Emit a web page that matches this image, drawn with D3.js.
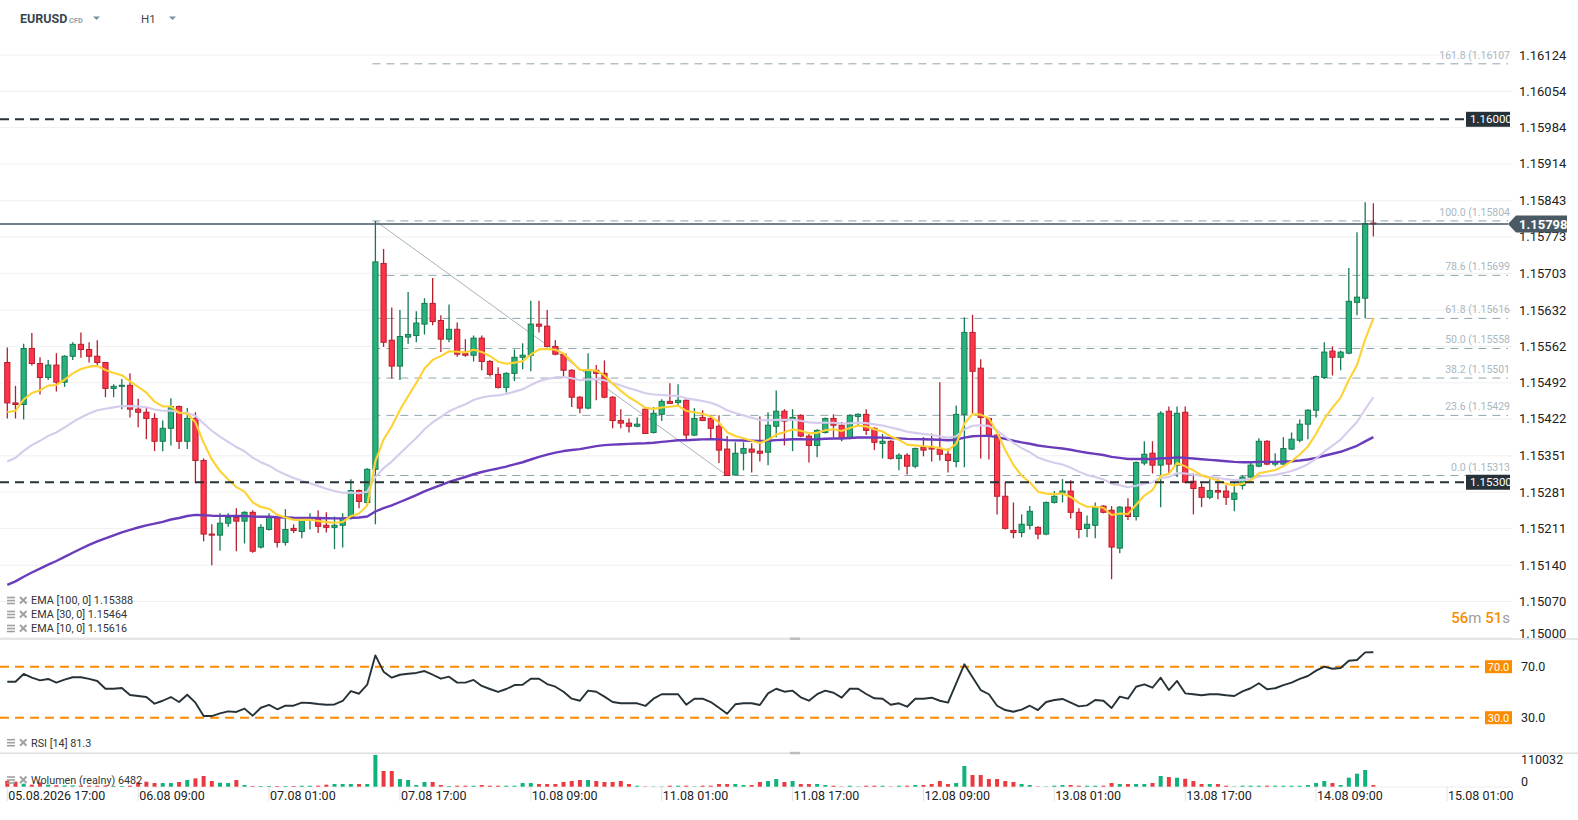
<!DOCTYPE html>
<html>
<head>
<meta charset="utf-8">
<script src="https://cdn.jsdelivr.net/npm/d3@7"></script>
<style>
  body { margin: 0; background: #fff; }
  svg { display: block; font-family: Roboto, "Open Sans", sans-serif; }
</style>
</head>
<body>
<svg id="chart" width="1578" height="820"></svg>
<script>
// EURUSD H1 candles, 05.08 17:00 .. 14.08 16:00
const openP = [1.15531,1.15453,1.15450,1.15558,1.15529,1.15502,1.15526,1.15493,1.15543,1.15566,1.15556,1.15543,1.15531,1.15481,1.15485,1.15487,1.15441,1.15435,1.15423,1.15379,1.15404,1.15446,1.15379,1.15423,1.15342,1.15200,1.15198,1.15221,1.15232,1.15225,1.15242,1.15175,1.15209,1.15232,1.15184,1.15211,1.15205,1.15227,1.15230,1.15217,1.15213,1.15217,1.15230,1.15284,1.15261,1.15325,1.15722,1.15574,1.15524,1.15580,1.15583,1.15605,1.15645,1.15612,1.15576,1.15595,1.15548,1.15545,1.15578,1.15533,1.15508,1.15483,1.15510,1.15541,1.15545,1.15605,1.15601,1.15562,1.15547,1.15516,1.15464,1.15443,1.15516,1.15510,1.15464,1.15419,1.15414,1.15408,1.15441,1.15396,1.15431,1.15456,1.15454,1.15458,1.15391,1.15425,1.15423,1.15408,1.15364,1.15314,1.15356,1.15364,1.15360,1.15358,1.15408,1.15437,1.15421,1.15429,1.15389,1.15371,1.15396,1.15423,1.15410,1.15385,1.15427,1.15431,1.15404,1.15375,1.15379,1.15346,1.15352,1.15331,1.15367,1.15367,1.15364,1.15354,1.15340,1.15431,1.15589,1.15520,1.15423,1.15391,1.15273,1.15207,1.15203,1.15217,1.15213,1.15200,1.15261,1.15279,1.15283,1.15242,1.15211,1.15217,1.15254,1.15246,1.15173,1.15252,1.15234,1.15337,1.15356,1.15333,1.15437,1.15333,1.15435,1.15302,1.15290,1.15271,1.15284,1.15283,1.15267,1.15294,1.15310,1.15331,1.15379,1.15335,1.15335,1.15364,1.15381,1.15412,1.15439,1.15502,1.15553,1.15541,1.15549,1.15647,1.15655,1.15800];
const highP = [1.15560,1.15486,1.15567,1.15588,1.15541,1.15536,1.15549,1.15545,1.15570,1.15589,1.15570,1.15574,1.15532,1.15489,1.15499,1.15510,1.15461,1.15445,1.15433,1.15419,1.15462,1.15448,1.15443,1.15435,1.15346,1.15219,1.15240,1.15240,1.15250,1.15244,1.15246,1.15219,1.15240,1.15234,1.15248,1.15219,1.15230,1.15240,1.15246,1.15242,1.15234,1.15240,1.15306,1.15286,1.15327,1.15804,1.15750,1.15637,1.15632,1.15667,1.15630,1.15655,1.15694,1.15622,1.15643,1.15608,1.15576,1.15583,1.15583,1.15536,1.15522,1.15512,1.15556,1.15568,1.15650,1.15650,1.15632,1.15574,1.15549,1.15518,1.15466,1.15549,1.15526,1.15535,1.15466,1.15441,1.15423,1.15425,1.15445,1.15445,1.15460,1.15491,1.15489,1.15460,1.15443,1.15439,1.15429,1.15429,1.15389,1.15377,1.15377,1.15375,1.15427,1.15435,1.15477,1.15441,1.15441,1.15431,1.15393,1.15402,1.15425,1.15431,1.15416,1.15431,1.15433,1.15441,1.15406,1.15393,1.15381,1.15356,1.15356,1.15367,1.15387,1.15394,1.15493,1.15365,1.15448,1.15618,1.15623,1.15537,1.15425,1.15393,1.15300,1.15261,1.15238,1.15254,1.15215,1.15263,1.15283,1.15306,1.15304,1.15250,1.15236,1.15261,1.15256,1.15254,1.15254,1.15269,1.15340,1.15379,1.15379,1.15437,1.15446,1.15446,1.15446,1.15317,1.15298,1.15306,1.15306,1.15294,1.15298,1.15313,1.15337,1.15385,1.15381,1.15356,1.15387,1.15396,1.15421,1.15441,1.15506,1.15570,1.15562,1.15554,1.15713,1.15782,1.15840,1.15838];
const lowP = [1.15423,1.15423,1.15421,1.15525,1.15469,1.15497,1.15475,1.15484,1.15536,1.15540,1.15531,1.15523,1.15464,1.15464,1.15441,1.15425,1.15406,1.15383,1.15360,1.15360,1.15371,1.15364,1.15364,1.15298,1.15186,1.15140,1.15168,1.15214,1.15167,1.15182,1.15164,1.15172,1.15207,1.15174,1.15178,1.15202,1.15192,1.15209,1.15202,1.15203,1.15171,1.15174,1.15228,1.15250,1.15255,1.15219,1.15561,1.15500,1.15497,1.15567,1.15570,1.15585,1.15603,1.15551,1.15570,1.15542,1.15542,1.15533,1.15516,1.15504,1.15481,1.15473,1.15495,1.15518,1.15514,1.15589,1.15560,1.15545,1.15502,1.15445,1.15433,1.15441,1.15458,1.15462,1.15404,1.15404,1.15396,1.15406,1.15393,1.15394,1.15418,1.15451,1.15446,1.15383,1.15389,1.15418,1.15385,1.15337,1.15313,1.15313,1.15323,1.15319,1.15340,1.15333,1.15387,1.15371,1.15360,1.15387,1.15338,1.15348,1.15394,1.15387,1.15379,1.15383,1.15410,1.15391,1.15362,1.15346,1.15344,1.15323,1.15315,1.15327,1.15350,1.15340,1.15342,1.15319,1.15329,1.15329,1.15433,1.15346,1.15344,1.15238,1.15209,1.15192,1.15194,1.15209,1.15190,1.15198,1.15259,1.15261,1.15230,1.15192,1.15194,1.15192,1.15240,1.15113,1.15163,1.15227,1.15226,1.15333,1.15317,1.15252,1.15317,1.15310,1.15298,1.15238,1.15252,1.15267,1.15267,1.15256,1.15244,1.15286,1.15308,1.15329,1.15333,1.15331,1.15333,1.15362,1.15377,1.15383,1.15425,1.15499,1.15506,1.15516,1.15547,1.15622,1.15616,1.15774];
const closeP = [1.15453,1.15450,1.15558,1.15529,1.15502,1.15526,1.15493,1.15543,1.15566,1.15556,1.15543,1.15531,1.15481,1.15485,1.15487,1.15441,1.15435,1.15423,1.15379,1.15404,1.15446,1.15379,1.15423,1.15342,1.15200,1.15198,1.15221,1.15232,1.15225,1.15242,1.15167,1.15213,1.15234,1.15184,1.15209,1.15207,1.15227,1.15229,1.15215,1.15213,1.15217,1.15230,1.15284,1.15263,1.15325,1.15725,1.15570,1.15524,1.15581,1.15585,1.15607,1.15645,1.15610,1.15576,1.15595,1.15547,1.15545,1.15578,1.15533,1.15508,1.15483,1.15510,1.15541,1.15545,1.15605,1.15601,1.15562,1.15547,1.15516,1.15464,1.15443,1.15516,1.15510,1.15464,1.15419,1.15414,1.15408,1.15412,1.15394,1.15433,1.15456,1.15452,1.15458,1.15391,1.15423,1.15419,1.15404,1.15362,1.15313,1.15356,1.15365,1.15358,1.15356,1.15410,1.15437,1.15418,1.15425,1.15389,1.15371,1.15400,1.15423,1.15410,1.15385,1.15429,1.15431,1.15400,1.15377,1.15379,1.15346,1.15352,1.15331,1.15365,1.15362,1.15364,1.15354,1.15342,1.15431,1.15589,1.15514,1.15425,1.15391,1.15273,1.15211,1.15203,1.15219,1.15244,1.15200,1.15261,1.15273,1.15283,1.15242,1.15209,1.15219,1.15252,1.15242,1.15175,1.15252,1.15234,1.15338,1.15354,1.15333,1.15433,1.15335,1.15433,1.15300,1.15288,1.15271,1.15284,1.15281,1.15271,1.15279,1.15310,1.15333,1.15379,1.15335,1.15338,1.15365,1.15383,1.15412,1.15439,1.15504,1.15551,1.15541,1.15551,1.15649,1.15657,1.15799,1.15798];
const volume = [23900,19900,11900,8000,17200,8000,6000,5000,5000,4000,4000,4000,5000,3000,3000,4000,17200,19900,14600,14600,14600,18600,26500,33100,42400,22500,15900,14600,26500,6600,2600,2600,2600,2600,2600,2600,4000,4000,4000,8000,10600,10600,10600,10600,10600,126000,62400,62400,30500,26500,6600,18600,18600,6600,2600,4000,4000,4000,6600,4000,4000,4000,4000,14600,14600,10600,10600,10600,18600,22500,26500,26500,22500,18600,18600,22500,10600,4000,1300,1300,1300,4000,4000,4000,1300,4000,4000,10600,10600,10600,6600,6600,18600,22500,30500,18600,22500,10600,10600,10600,6600,4000,1300,4000,1300,4000,4000,4000,1300,4000,4000,6600,6600,10600,22500,10600,14600,82200,46400,46400,30500,30500,22500,18600,10600,6600,1300,1300,4000,6600,6600,4000,4000,4000,4000,14600,10600,10600,10600,10600,14600,42400,38400,35800,31800,22500,10600,10600,10600,4000,1300,4000,4000,4000,4000,4000,4000,4000,4000,6600,14600,22500,14600,6600,35800,51700,66300,6482];
const rsi = [58.2,58.2,64.3,61.4,59.3,60.4,57.5,59.8,61.7,61.7,60.4,58.8,52.7,52.7,53.3,47.8,47.0,46.2,41.0,43.3,46.2,42.3,48.0,41.8,31.3,31.3,33.4,35.0,34.5,37.1,31.6,37.8,40.0,36.6,39.4,39.4,41.8,41.5,40.7,40.2,40.4,43.1,50.9,48.8,55.9,78.9,66.1,61.4,63.7,64.5,65.1,66.6,63.7,60.6,62.2,57.5,57.5,59.6,54.9,52.5,50.2,52.5,55.6,55.9,60.6,60.6,56.4,54.3,50.4,44.9,43.3,51.2,50.4,46.5,42.3,41.3,41.3,41.3,39.2,44.9,48.4,48.4,48.4,40.2,44.9,44.9,42.3,37.8,33.1,40.5,41.3,41.3,40.0,49.1,52.7,50.4,51.2,46.0,43.3,48.4,51.2,49.6,45.7,52.7,52.7,48.6,45.2,44.9,40.2,41.3,38.6,44.9,44.9,45.7,43.3,41.8,57.0,71.9,61.7,51.7,48.4,39.4,36.0,34.7,36.3,39.4,36.0,42.3,43.9,44.7,41.8,38.9,39.7,43.9,43.3,37.6,46.5,44.9,54.3,56.2,53.5,61.4,51.7,58.8,49.1,48.4,47.6,48.4,48.4,47.6,47.0,50.7,53.1,57.0,52.3,53.1,55.6,57.5,60.4,62.7,66.9,70.0,68.4,69.0,74.7,75.3,81.2,81.3];

// EMA periods and their values at the first visible candle
const emaPeriods = [100, 30, 10];
const emaSeeds = [1.15102, 1.15340, 1.15435];
const emaColors = ['#6a3cbc', '#d5cbec', '#ffd233'];
const emaLegend = ['EMA [100, 0] 1.15388', 'EMA [30, 0] 1.15464', 'EMA [10, 0] 1.15616'];

// fibonacci retracement
const fibLevels = ['161.8', '100.0', '78.6', '61.8', '50.0', '38.2', '23.6', '0.0'];
const fibPrices = [1.16107, 1.15804, 1.15699, 1.15616, 1.15558, 1.15501, 1.15429, 1.15313];
const fibFrom = 45, fibTo = 88;

const priceTicks = ['1.15000','1.15070','1.15140','1.15211','1.15281','1.15351','1.15422','1.15492','1.15562','1.15632','1.15703','1.15773','1.15843','1.15914','1.15984','1.16054','1.16124'];
const timeTicks = [0, 16, 32, 48, 64, 80, 96, 112, 128, 144, 160, 176];
const timeLabels = ['05.08.2026 17:00','06.08 09:00','07.08 01:00','07.08 17:00','10.08 09:00','11.08 01:00','11.08 17:00','12.08 09:00','13.08 01:00','13.08 17:00','14.08 09:00','15.08 01:00'];
const levelLines = [1.16000, 1.15300];
const lastPrice = 1.15798;
const rsiLevels = [70, 30];
const volTicks = [110032, 0];

const svg = d3.select('#chart');
const W = 1578;

const x = d3.scaleLinear().domain([0, 176]).range([7.3, 7.3 + 176 * 8.18]);
const y = d3.scaleLinear().domain([1.15, 1.16]).range([637.8, 119.3]);
const yRsi = d3.scaleLinear().domain([30, 70]).range([717.7, 666.7]);
const yVol = d3.scaleLinear().domain([0, 126000]).range([786.7, 755]);

const GREEN = '#27b27b', GREEN_DK = '#167a50';
const RED = '#fe3448', RED_DK = '#b51f2e';
const ORANGE = '#fb8c00';

// header
const head = svg.append('g');
head.append('text').attr('x', 20).attr('y', 23).attr('font-size', 12.5)
  .attr('font-weight', 700).attr('fill', '#37474f').text('EURUSD');
head.append('text').attr('x', 69).attr('y', 23).attr('font-size', 7.5)
  .attr('font-weight', 700).attr('fill', '#90a4ae').text('CFD');
head.append('path').attr('d', 'M93,16.5 L100,16.5 L96.5,20 Z').attr('fill', '#78909c');
head.append('text').attr('x', 141).attr('y', 23).attr('font-size', 11.5)
  .attr('fill', '#37474f').text('H1');
head.append('path').attr('d', 'M169,16.5 L176,16.5 L172.5,20 Z').attr('fill', '#78909c');

// price grid
svg.append('g').selectAll('line').data(priceTicks).join('line')
  .attr('x1', 0).attr('x2', 1512)
  .attr('y1', d => y(+d)).attr('y2', d => y(+d))
  .attr('stroke', '#f0f0f0').attr('stroke-width', 1);

// fibonacci lines
const fib = svg.append('g');
fib.selectAll('line').data(fibPrices).join('line')
  .attr('x1', x(fibFrom) - 3).attr('x2', 1508)
  .attr('y1', d => y(d)).attr('y2', d => y(d))
  .attr('stroke', '#90a4ae').attr('stroke-width', 1)
  .attr('stroke-dasharray', '8,6');
fib.append('line')
  .attr('x1', x(fibFrom)).attr('y1', y(fibPrices[1]))
  .attr('x2', x(fibTo)).attr('y2', y(fibPrices[7]))
  .attr('stroke', '#a5b3ba').attr('stroke-width', 1);
fib.selectAll('text').data(fibLevels).join('text')
  .attr('x', 1510).attr('y', (d, i) => y(fibPrices[i]) - 5)
  .attr('text-anchor', 'end').attr('font-size', 10.5).attr('fill', '#a9b7bf')
  .text((d, i) => `${d} (${fibPrices[i].toFixed(5)}`);

// candles
const idx = d3.range(closeP.length);
const up = i => closeP[i] >= openP[i];
const candles = svg.append('g').selectAll('g').data(idx).join('g');
candles.append('line')
  .attr('x1', i => x(i)).attr('x2', i => x(i))
  .attr('y1', i => y(highP[i])).attr('y2', i => y(lowP[i]))
  .attr('stroke', i => up(i) ? GREEN_DK : RED_DK).attr('stroke-width', 1.3);
candles.append('rect')
  .attr('x', i => x(i) - 2.6).attr('width', 5.2)
  .attr('y', i => y(Math.max(openP[i], closeP[i])))
  .attr('height', i => Math.max(1, Math.abs(y(openP[i]) - y(closeP[i]))))
  .attr('fill', i => up(i) ? GREEN : RED)
  .attr('stroke', i => up(i) ? GREEN_DK : RED_DK).attr('stroke-width', 1);

// EMAs computed from the closes, starting at the value shown on the first candle
function ema(values, period, seed) {
  const k = 2 / (period + 1);
  let prev = seed;
  return values.map((v, i) => (prev = i === 0 ? seed : v * k + prev * (1 - k)));
}
const priceLine = d3.line().x((d, i) => x(i)).y(d => y(d));
emaPeriods.forEach((p, j) => {
  svg.append('path').datum(ema(closeP, p, emaSeeds[j]))
    .attr('d', priceLine).attr('fill', 'none')
    .attr('stroke', emaColors[j]).attr('stroke-width', j === 0 ? 2.4 : 2.1)
    .attr('stroke-linejoin', 'round');
});

// horizontal level lines
const lv = svg.append('g');
lv.selectAll('line').data(levelLines).join('line')
  .attr('x1', 0).attr('x2', 1466)
  .attr('y1', d => y(d)).attr('y2', d => y(d))
  .attr('stroke', '#263238').attr('stroke-width', 2).attr('stroke-dasharray', '9,6');
svg.append('clipPath').attr('id', 'boxclip').append('rect')
  .attr('x', 1466).attr('y', 0).attr('width', 44).attr('height', 820);
const lvBox = lv.selectAll('g').data(levelLines).join('g');
lvBox.append('rect').attr('x', 1466).attr('width', 44)
  .attr('y', d => y(d) - 7.5).attr('height', 15).attr('fill', '#263238');
lvBox.append('text').attr('x', 1470).attr('y', d => y(d) + 4)
  .attr('clip-path', 'url(#boxclip)')
  .attr('font-size', 11.5).attr('fill', '#fff').text(d => d.toFixed(5));

// last price line
svg.append('line').attr('x1', 0).attr('x2', 1508)
  .attr('y1', y(lastPrice)).attr('y2', y(lastPrice))
  .attr('stroke', '#46565f').attr('stroke-width', 1.4);

// price axis labels
svg.append('g').selectAll('text').data(priceTicks).join('text')
  .attr('x', 1519).attr('y', d => Math.min(y(+d), 633) + 4.5)
  .attr('font-size', 13).attr('fill', '#222').text(d => d);

// last price tag
const ly = y(lastPrice);
svg.append('path')
  .attr('d', `M1508,${ly} L1516,${ly - 8.5} L1567,${ly - 8.5} L1567,${ly + 8.5} L1516,${ly + 8.5} Z`)
  .attr('fill', '#4a5a64');
svg.append('text').attr('x', 1519).attr('y', ly + 4.5)
  .attr('font-size', 13).attr('font-weight', 700).attr('fill', '#fff')
  .text(lastPrice.toFixed(5));

// candle countdown
const cd = svg.append('text').attr('x', 1510).attr('y', 623)
  .attr('text-anchor', 'end').attr('font-size', 15);
cd.append('tspan').attr('fill', ORANGE).attr('font-weight', 500).text('56');
cd.append('tspan').attr('fill', '#9e9e9e').text('m ');
cd.append('tspan').attr('fill', ORANGE).attr('font-weight', 500).text('51');
cd.append('tspan').attr('fill', '#9e9e9e').text('s');

// legend rows
function legendRow(text, cy) {
  const g = svg.append('g');
  [-3, 0, 3].forEach(o => g.append('line').attr('x1', 7).attr('x2', 15)
    .attr('y1', cy + o).attr('y2', cy + o).attr('stroke', '#a0a0a0').attr('stroke-width', 1.6));
  g.append('line').attr('x1', 20).attr('y1', cy - 3.5).attr('x2', 26.5).attr('y2', cy + 3)
    .attr('stroke', '#a0a0a0').attr('stroke-width', 2);
  g.append('line').attr('x1', 26.5).attr('y1', cy - 3.5).attr('x2', 20).attr('y2', cy + 3)
    .attr('stroke', '#a0a0a0').attr('stroke-width', 2);
  g.append('text').attr('x', 31).attr('y', cy + 3.8).attr('font-size', 10.8)
    .attr('fill', '#333').text(text);
}
emaLegend.forEach((t, j) => legendRow(t, 600.5 + j * 14));

// pane separators
[639, 753.3].forEach(sy => {
  svg.append('line').attr('x1', 0).attr('x2', W).attr('y1', sy).attr('y2', sy)
    .attr('stroke', '#dedede').attr('stroke-width', 1.5);
  svg.append('rect').attr('x', 790).attr('y', sy - 1.5).attr('width', 10).attr('height', 2.5)
    .attr('fill', '#bdbdbd');
});

// RSI pane
const rsiG = svg.append('g');
rsiG.selectAll('line').data(rsiLevels).join('line')
  .attr('x1', 0).attr('x2', 1485)
  .attr('y1', d => yRsi(d)).attr('y2', d => yRsi(d))
  .attr('stroke', ORANGE).attr('stroke-width', 2).attr('stroke-dasharray', '9,6');
rsiG.append('path').datum(rsi)
  .attr('d', d3.line().x((d, i) => x(i)).y(d => yRsi(d)))
  .attr('fill', 'none').attr('stroke', '#263238').attr('stroke-width', 1.9)
  .attr('stroke-linejoin', 'round');
const rsiBox = rsiG.selectAll('g').data(rsiLevels).join('g');
rsiBox.append('rect').attr('x', 1485).attr('width', 27)
  .attr('y', d => yRsi(d) - 6.5).attr('height', 13).attr('fill', ORANGE);
rsiBox.append('text').attr('x', 1498.5).attr('y', d => yRsi(d) + 4)
  .attr('text-anchor', 'middle').attr('font-size', 11).attr('fill', '#fff')
  .text(d => d.toFixed(1));
rsiBox.append('text').attr('x', 1521).attr('y', d => yRsi(d) + 4.5)
  .attr('font-size', 12.5).attr('fill', '#222').text(d => d.toFixed(1));
legendRow('RSI [14] 81.3', 742.7);

// volume pane
svg.append('line').attr('x1', 0).attr('x2', 1512).attr('y1', 787).attr('y2', 787)
  .attr('stroke', '#eeeeee').attr('stroke-width', 1);
svg.append('g').selectAll('rect').data(idx).join('rect')
  .attr('x', i => x(i) - 2).attr('width', 4)
  .attr('y', i => yVol(volume[i]))
  .attr('height', i => yVol(0) - yVol(volume[i]))
  .attr('fill', i => up(i) ? '#0db37a' : '#e83a3f');
svg.append('g').selectAll('text').data(volTicks).join('text')
  .attr('x', 1521).attr('y', d => d === 0 ? 786 : yVol(d) + 4.5)
  .attr('font-size', 12.5).attr('fill', '#222').text(d => d);
legendRow('Wolumen (realny) 6482', 780);

// time axis
const tx = svg.append('g');
tx.selectAll('line').data(timeTicks).join('line')
  .attr('x1', d => x(d)).attr('x2', d => x(d)).attr('y1', 787).attr('y2', 801)
  .attr('stroke', '#e2e2e2').attr('stroke-width', 1);
tx.selectAll('text').data(timeTicks).join('text')
  .attr('x', d => x(d) + 1).attr('y', 799.5)
  .attr('font-size', 12.5).attr('fill', '#222')
  .text((d, i) => timeLabels[i]);
</script>
</body>
</html>
